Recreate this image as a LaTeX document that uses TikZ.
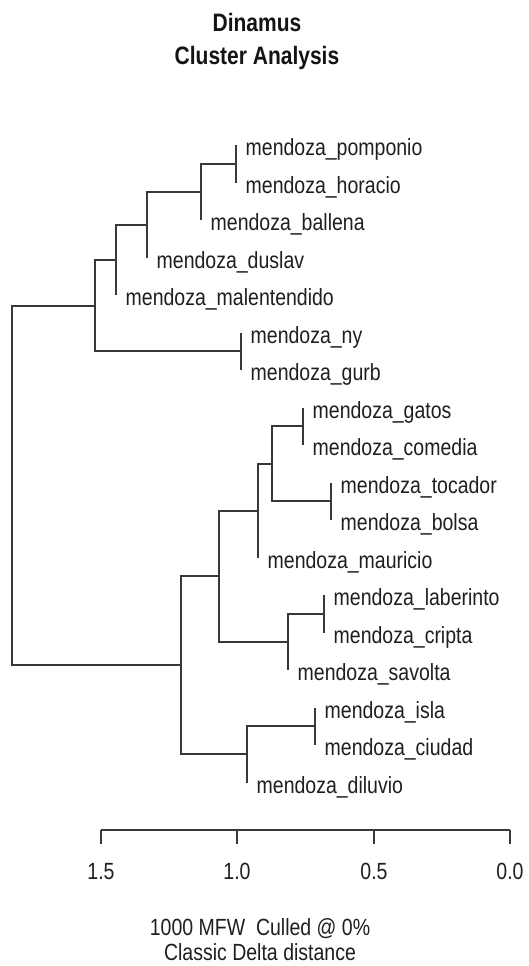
\documentclass[tikz,border=0pt]{standalone}
\usepackage{fontspec}
\setmainfont{Liberation Sans}
\newcommand\stretchtxt[1]{\scalebox{1}[1.2]{#1}}
\begin{document}
\begin{tikzpicture}[x=1pt,y=-1pt,
  branch/.style={draw=black!78, line width=2pt},
  leaflabel/.style={anchor=base west, inner sep=0pt, font=\fontsize{19.5}{23}\selectfont, text=black!88},
  ticklabel/.style={anchor=base, inner sep=0pt, font=\fontsize{19.5}{23}\selectfont, text=black!88},
  titlelabel/.style={anchor=base, inner sep=0pt, font=\bfseries\fontsize{21}{25}\selectfont, text=black!92}]
\useasboundingbox[fill=white] (0,0) rectangle (528,966);
% title
\node[titlelabel] (title1) at (257,32) {\stretchtxt{Dinamus}};
\node[titlelabel] (title2) at (257,65) {\stretchtxt{Cluster Analysis}};
% tips
\coordinate (t0) at (236,145);
\coordinate (t1) at (236,183);
\coordinate (t2) at (201,220);
\coordinate (t3) at (147,258);
\coordinate (t4) at (116,295);
\coordinate (t5) at (241,333);
\coordinate (t6) at (241,370);
\coordinate (t7) at (303,408);
\coordinate (t8) at (303,445);
\coordinate (t9) at (331,483);
\coordinate (t10) at (331,520);
\coordinate (t11) at (258,558);
\coordinate (t12) at (324,595);
\coordinate (t13) at (324,633);
\coordinate (t14) at (288,670);
\coordinate (t15) at (315,708);
\coordinate (t16) at (315,745);
\coordinate (t17) at (247,783);
% internal nodes
\coordinate (nA) at (236,164);
\coordinate (nB) at (201,192);
\coordinate (nC) at (147,225);
\coordinate (nD) at (116,260);
\coordinate (nF) at (241,351);
\coordinate (nE) at (95,306);
\coordinate (nG) at (303,426);
\coordinate (nH) at (331,501);
\coordinate (nI) at (272,464);
\coordinate (nJ) at (258,511);
\coordinate (nL) at (324,614);
\coordinate (nM) at (288,642);
\coordinate (nK) at (219,576);
\coordinate (nO) at (315,726);
\coordinate (nP) at (247,754);
\coordinate (nN) at (181,665);
\coordinate (nR) at (12,485);
% branches
\draw[branch] (t0) -| (nA) |- (t1);
\draw[branch] (nA) -| (nB) |- (t2);
\draw[branch] (nB) -| (nC) |- (t3);
\draw[branch] (nC) -| (nD) |- (t4);
\draw[branch] (t5) -| (nF) |- (t6);
\draw[branch] (nD) -| (nE) |- (nF);
\draw[branch] (t7) -| (nG) |- (t8);
\draw[branch] (t9) -| (nH) |- (t10);
\draw[branch] (nG) -| (nI) |- (nH);
\draw[branch] (nI) -| (nJ) |- (t11);
\draw[branch] (t12) -| (nL) |- (t13);
\draw[branch] (nL) -| (nM) |- (t14);
\draw[branch] (nJ) -| (nK) |- (nM);
\draw[branch] (t15) -| (nO) |- (t16);
\draw[branch] (nO) -| (nP) |- (t17);
\draw[branch] (nK) -| (nN) |- (nP);
\draw[branch] (nE) -| (nR) |- (nN);
% leaf labels
\node[leaflabel] (l0) at ([shift={(9.5,10)}]t0) {\stretchtxt{mendoza\_pomponio}};
\node[leaflabel] (l1) at ([shift={(9.5,10)}]t1) {\stretchtxt{mendoza\_horacio}};
\node[leaflabel] (l2) at ([shift={(9.5,10)}]t2) {\stretchtxt{mendoza\_ballena}};
\node[leaflabel] (l3) at ([shift={(9.5,10)}]t3) {\stretchtxt{mendoza\_duslav}};
\node[leaflabel] (l4) at ([shift={(9.5,10)}]t4) {\stretchtxt{mendoza\_malentendido}};
\node[leaflabel] (l5) at ([shift={(9.5,10)}]t5) {\stretchtxt{mendoza\_ny}};
\node[leaflabel] (l6) at ([shift={(9.5,10)}]t6) {\stretchtxt{mendoza\_gurb}};
\node[leaflabel] (l7) at ([shift={(9.5,10)}]t7) {\stretchtxt{mendoza\_gatos}};
\node[leaflabel] (l8) at ([shift={(9.5,10)}]t8) {\stretchtxt{mendoza\_comedia}};
\node[leaflabel] (l9) at ([shift={(9.5,10)}]t9) {\stretchtxt{mendoza\_tocador}};
\node[leaflabel] (l10) at ([shift={(9.5,10)}]t10) {\stretchtxt{mendoza\_bolsa}};
\node[leaflabel] (l11) at ([shift={(9.5,10)}]t11) {\stretchtxt{mendoza\_mauricio}};
\node[leaflabel] (l12) at ([shift={(9.5,10)}]t12) {\stretchtxt{mendoza\_laberinto}};
\node[leaflabel] (l13) at ([shift={(9.5,10)}]t13) {\stretchtxt{mendoza\_cripta}};
\node[leaflabel] (l14) at ([shift={(9.5,10)}]t14) {\stretchtxt{mendoza\_savolta}};
\node[leaflabel] (l15) at ([shift={(9.5,10)}]t15) {\stretchtxt{mendoza\_isla}};
\node[leaflabel] (l16) at ([shift={(9.5,10)}]t16) {\stretchtxt{mendoza\_ciudad}};
\node[leaflabel] (l17) at ([shift={(9.5,10)}]t17) {\stretchtxt{mendoza\_diluvio}};
% axis
\coordinate (a15) at (101,830);
\coordinate (a10) at (237,830);
\coordinate (a05) at (374,830);
\coordinate (a00) at (510,830);
\draw[branch] (a15) -- (a00);
\foreach \p in {a15,a10,a05,a00} \draw[branch] (\p) -- ++(0,14);
\node[ticklabel] (k15) at (101,879) {\stretchtxt{1.5}};
\node[ticklabel] (k10) at (237,879) {\stretchtxt{1.0}};
\node[ticklabel] (k05) at (374,879) {\stretchtxt{0.5}};
\node[ticklabel] (k00) at (510,879) {\stretchtxt{0.0}};
% caption
\node[ticklabel] (cap1) at (260,935) {\stretchtxt{1000 MFW\ \ Culled @ 0\%}};
\node[ticklabel] (cap2) at (260,960) {\stretchtxt{Classic Delta distance}};
\end{tikzpicture}
\end{document}
